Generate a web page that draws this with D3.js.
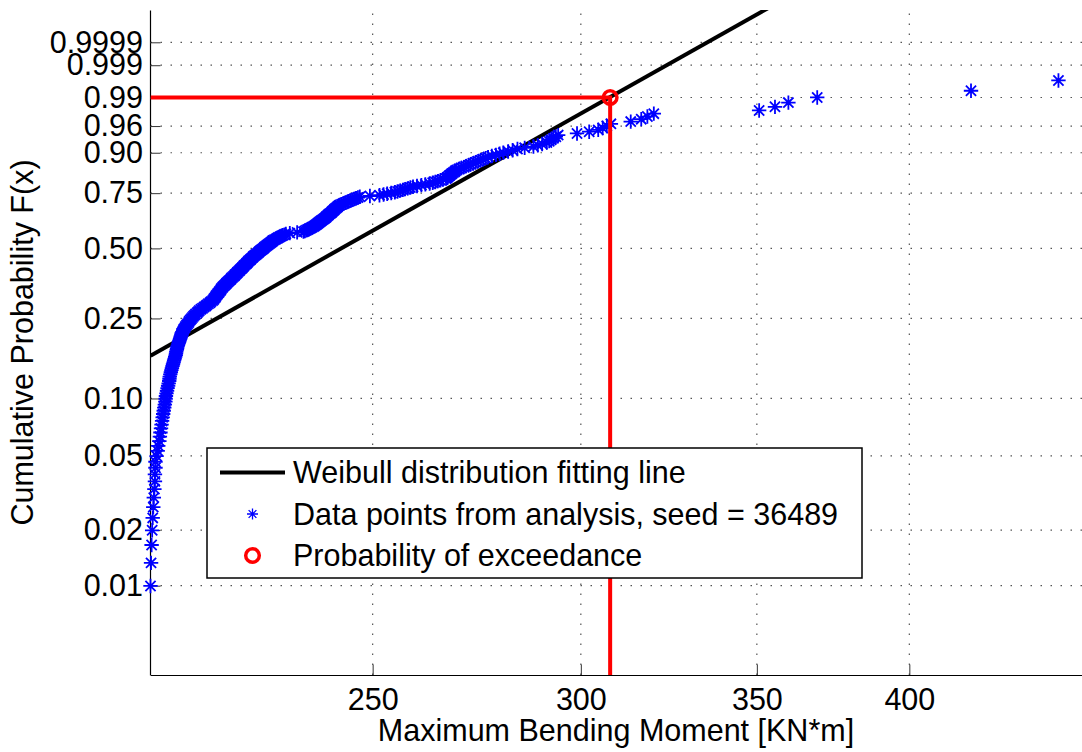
<!DOCTYPE html>
<html>
<head>
<meta charset="utf-8">
<script src="https://cdn.jsdelivr.net/npm/d3@7/dist/d3.min.js"></script>
<style>
  body { margin: 0; background: #fff; }
  svg { display: block; font-family: "Liberation Sans", Arial, Helvetica, sans-serif; }
</style>
</head>
<body>
<svg class="chart"></svg>
<script>
const width = 1082;
const height = 752;
const fontSize = 30.5;

// data: sorted maximum moments (ranks 3..300 of a 300 sample, ranks 1-2 sit left of the x limit)
const sampleSize = 300;
const firstRank = 3;
const moments = [
  205.8, 205.9, 206.0, 206.1, 206.2, 206.3, 206.4, 206.5, 206.6, 206.6,
  206.7, 206.7, 206.9, 207.1, 207.2, 207.4, 207.5, 207.6, 207.7, 207.8,
  207.9, 208.0, 208.1, 208.2, 208.3, 208.4, 208.5, 208.55, 208.6, 208.7,
  208.8, 208.9, 209.0, 209.1, 209.2, 209.25, 209.3, 209.4, 209.5, 209.6,
  209.7, 209.8, 209.9, 210.0, 210.1, 210.2, 210.3, 210.4, 210.45, 210.5,
  210.6, 210.65, 210.7, 210.8, 210.9, 211.0, 211.1, 211.2, 211.3, 211.35,
  211.45, 211.5, 211.65, 211.8, 211.9, 212.1, 212.2, 212.4, 212.6, 212.8,
  212.9, 213.1, 213.3, 213.5, 213.7, 213.9, 214.1, 214.4, 214.6, 214.8,
  215.1, 215.4, 215.7, 216.0, 216.2, 216.5, 216.8, 217.0, 217.3, 217.5,
  217.6, 217.8, 217.9, 218.0, 218.2, 218.3, 218.5, 218.6, 218.8, 218.9,
  219.0, 219.2, 219.3, 219.5, 219.7, 219.9, 220.0, 220.2, 220.4, 220.6,
  220.8, 220.9, 221.1, 221.3, 221.5, 221.6, 221.8, 222.0, 222.1, 222.3,
  222.5, 222.6, 222.8, 223.0, 223.1, 223.3, 223.4, 223.6, 223.8, 223.9,
  224.1, 224.2, 224.4, 224.6, 224.7, 224.9, 225.1, 225.2, 225.4, 225.6,
  225.8, 226.0, 226.2, 226.3, 226.5, 226.7, 226.9, 227.1, 227.3, 227.4,
  227.6, 227.8, 228.0, 228.2, 228.4, 228.6, 228.8, 229.0, 229.1, 229.4,
  229.7, 230.0, 230.2, 230.5, 230.8, 231.1, 231.4, 231.7, 232.5, 234.0,
  235.3, 235.6, 235.9, 236.2, 236.5, 236.8, 237.1, 237.4, 237.6, 237.8,
  238.0, 238.2, 238.4, 238.6, 238.8, 239.0, 239.2, 239.4, 239.6, 239.8,
  240.0, 240.1, 240.3, 240.5, 240.6, 240.8, 241.0, 241.2, 241.3, 241.5,
  241.7, 241.8, 242.0, 242.2, 242.4, 242.5, 242.7, 242.9, 243.3, 243.7,
  244.1, 244.5, 244.8, 245.2, 245.6, 246.0, 246.4, 246.8, 247.2, 249.4,
  251.5, 252.4, 253.2, 254.1, 254.9, 255.5, 256.1, 256.7, 257.2, 257.8,
  258.4, 259.0, 259.9, 260.9, 261.8, 262.8, 263.5, 264.1, 264.7, 265.3,
  265.9, 266.6, 266.8, 267.0, 267.3, 267.5, 267.8, 268.0, 268.3, 268.6,
  268.8, 269.1, 269.6, 270.2, 270.8, 271.3, 271.9, 272.4, 273.0, 273.6,
  274.2, 274.8, 275.4, 276.0, 276.6, 277.5, 278.5, 279.4, 280.3, 281.5,
  282.6, 283.8, 285.6, 287.8, 288.9, 290.0, 291.2, 291.8, 292.3, 292.9,
  293.5, 294.1, 299.0, 302.2, 304.6, 305.8, 306.9, 308.0, 313.4, 316.3,
  318.0, 319.8, 350.7, 355.6, 359.8, 369.0, 422.2, 455.8
];

// weibull fitting line, two end points [moment, F] (clipped at the top)
const fitMoments = [205.8, 360];
const fitProbs = [0.16493, 0.9999999241];

// probability of exceedance
const exceedMoment = 307.8;
const exceedProb = 0.99;

// axes
const xLimits = [205.8, 465.3];
const yLimits = [0.00327, 0.999999];
const xTicks = [250, 300, 350, 400];
const yTicks = [0.01, 0.02, 0.05, 0.10, 0.25, 0.50, 0.75, 0.90, 0.96, 0.99, 0.999, 0.9999];
const yTickLabels = ['0.01', '0.02', '0.05', '0.10', '0.25', '0.50', '0.75', '0.90', '0.96', '0.99', '0.999', '0.9999'];

const legendLabels = [
  'Weibull distribution fitting line',
  'Data points from analysis, seed = 36489',
  'Probability of exceedance'
];

const plotLeft = 150;
const plotTop = 10;
const plotBottom = 675;
const plotRight = 1082;

const weibull = p => Math.log(-Math.log(1 - p));

const svg = d3.select('.chart')
  .attr('width', width)
  .attr('height', height);

const xScale = d3.scaleLog()
  .domain(xLimits)
  .range([plotLeft + 0.5, plotRight]);

const yScale = d3.scaleLinear()
  .domain(yLimits.map(weibull))
  .range([plotBottom, plotTop]);

// clip
svg.append('clipPath')
  .attr('id', 'plot-area')
  .append('rect')
  .attr('x', plotLeft + 0.5)
  .attr('y', plotTop)
  .attr('width', plotRight - plotLeft)
  .attr('height', plotBottom - plotTop);

// grid
const grid = svg.append('g')
  .attr('stroke', '#555')
  .attr('stroke-width', 1.2)
  .attr('stroke-dasharray', '1.5,8.5');

grid.selectAll('.hgrid')
  .data(yTicks).enter()
  .append('line')
  .attr('class', 'hgrid')
  .attr('x1', plotLeft + 0.5)
  .attr('x2', plotRight)
  .attr('y1', d => yScale(weibull(d)))
  .attr('y2', d => yScale(weibull(d)));

grid.selectAll('.vgrid')
  .data(xTicks).enter()
  .append('line')
  .attr('class', 'vgrid')
  .attr('x1', d => xScale(d))
  .attr('x2', d => xScale(d))
  .attr('y1', plotBottom)
  .attr('y2', plotTop);

// y axis
const yAxis = d3.axisLeft(yScale)
  .tickValues(yTicks.map(weibull))
  .tickFormat((d, i) => yTickLabels[i])
  .tickSizeInner(-10.5)
  .tickSizeOuter(0)
  .tickPadding(7);

const yAxisG = svg.append('g')
  .attr('transform', `translate(${plotLeft},0)`)
  .call(yAxis);

// x axis
const xAxis = d3.axisBottom(xScale)
  .tickValues(xTicks)
  .tickFormat(d => String(d))
  .tickSizeInner(-10.5)
  .tickSizeOuter(0)
  .tickPadding(13.5);

const xAxisG = svg.append('g')
  .attr('transform', `translate(0,${plotBottom})`)
  .call(xAxis);

[yAxisG, xAxisG].forEach(g => {
  g.attr('font-size', fontSize)
    .attr('font-family', null);
  g.select('.domain').attr('stroke', '#000').attr('stroke-width', 1.2);
  g.selectAll('.tick line').attr('stroke', '#333').attr('stroke-width', 1);
  g.selectAll('.tick text').attr('fill', '#000');
});

// asterisk marker
function asterisk(r){
  const d = r * 0.7071;
  return `M${-r},0H${r}M0,${-r}V${r}M${-d},${-d}L${d},${d}M${-d},${d}L${d},${-d}`;
}

const plot = svg.append('g');

// fit line
const line = d3.line()
  .x(d => xScale(d[0]))
  .y(d => yScale(weibull(d[1])));

plot.append('path')
  .attr('clip-path', 'url(#plot-area)')
  .attr('d', line(d3.zip(fitMoments, fitProbs)))
  .attr('fill', 'none')
  .attr('stroke', '#000')
  .attr('stroke-width', 4);

// data points
const points = moments.map((m, i) => [m, (i + firstRank) / (sampleSize + 1)]);

plot.selectAll('.dot')
  .data(points).enter()
  .append('path')
  .attr('class', 'dot')
  .attr('transform', d => `translate(${xScale(d[0])},${yScale(weibull(d[1]))})`)
  .attr('d', asterisk(7.2))
  .attr('fill', 'none')
  .attr('stroke', '#0000ff')
  .attr('stroke-width', 1.8);

// exceedance lines + marker
plot.append('path')
  .attr('clip-path', 'url(#plot-area)')
  .attr('d', line([[xLimits[0], exceedProb], [exceedMoment, exceedProb], [exceedMoment, yLimits[0]]]))
  .attr('fill', 'none')
  .attr('stroke', '#ff0000')
  .attr('stroke-width', 4);

plot.append('circle')
  .attr('cx', xScale(exceedMoment))
  .attr('cy', yScale(weibull(exceedProb)))
  .attr('r', 6.8)
  .attr('fill', 'none')
  .attr('stroke', '#ff0000')
  .attr('stroke-width', 3.5);

// axis titles
svg.append('text')
  .attr('x', (plotLeft + plotRight) / 2)
  .attr('y', 741)
  .attr('text-anchor', 'middle')
  .attr('font-size', fontSize)
  .text('Maximum Bending Moment [KN*m]');

svg.append('text')
  .attr('transform', `translate(33,${(plotTop + plotBottom) / 2}) rotate(-90)`)
  .attr('text-anchor', 'middle')
  .attr('font-size', fontSize)
  .text('Cumulative Probability F(x)');

// legend
const legend = svg.append('g')
  .attr('transform', 'translate(207,448)');

legend.append('rect')
  .attr('width', 655)
  .attr('height', 130)
  .attr('fill', '#fff')
  .attr('stroke', '#000')
  .attr('stroke-width', 1.5);

const rowY = [24.5, 66, 107.5];

legend.append('line')
  .attr('x1', 13)
  .attr('x2', 78)
  .attr('y1', rowY[0])
  .attr('y2', rowY[0])
  .attr('stroke', '#000')
  .attr('stroke-width', 4);

legend.append('path')
  .attr('transform', `translate(45.5,${rowY[1]})`)
  .attr('d', asterisk(5.5))
  .attr('fill', 'none')
  .attr('stroke', '#0000ff')
  .attr('stroke-width', 1.3);

legend.append('circle')
  .attr('cx', 45.5)
  .attr('cy', rowY[2])
  .attr('r', 6.8)
  .attr('fill', 'none')
  .attr('stroke', '#ff0000')
  .attr('stroke-width', 3.5);

legend.selectAll('.legend-text')
  .data(legendLabels).enter()
  .append('text')
  .attr('class', 'legend-text')
  .attr('x', 86)
  .attr('y', (d, i) => rowY[i])
  .attr('dy', '0.36em')
  .attr('font-size', fontSize)
  .text(d => d);
</script>
</body>
</html>
